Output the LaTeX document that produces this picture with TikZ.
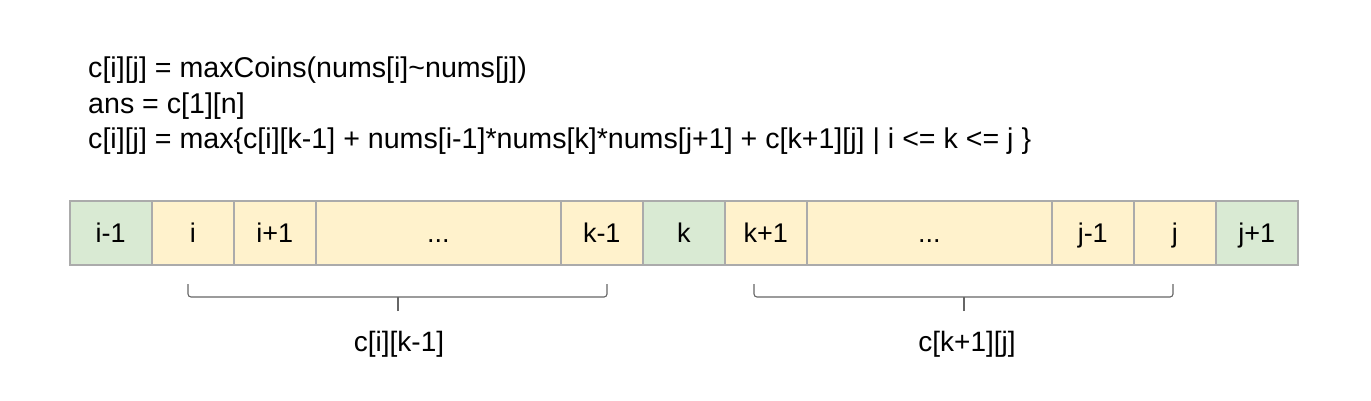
\documentclass[tikz,border=0pt]{standalone}
\usepackage{fontspec}
\setmainfont{Liberation Sans}
\definecolor{cellgreen}{HTML}{D9EAD3}
\definecolor{cellyellow}{HTML}{FFF2CC}
\definecolor{cellborder}{HTML}{ABABAB}
\definecolor{bracecol}{HTML}{666666}
\begin{document}
\begin{tikzpicture}[x=1pt,y=-1pt,
  txt/.style={font=\fontsize{28.6}{34}\selectfont, inner sep=0pt},
  lbl/.style={font=\fontsize{28}{34}\selectfont, inner sep=0pt, text height=20pt, text depth=0pt},
  cellbox/.style={draw=cellborder, line width=1.5pt, minimum height=64pt, inner sep=0pt, text height=19.4pt, text depth=0pt, anchor=north west, font=\fontsize{27}{32}\selectfont},
  gcell/.style={cellbox, fill=cellgreen},
  ycell/.style={cellbox, fill=cellyellow},
  bracepath/.style={draw=bracecol, line width=1.1pt, rounded corners=3pt}]
\useasboundingbox (0,0) rectangle (1371,400);
\fill[white] (0,0) rectangle (1371,400);
% formulas
\node[txt, anchor=base west] (f1) at (88,77) {c[i][j] = maxCoins(nums[i]\char`~nums[j])};
\node[txt, anchor=base west] (f2) at (88,113) {ans = c[1][n]};
\node[txt, anchor=base west] (f3) at (88,148) {c[i][j] = max\{c[i][k-1] + nums[i-1]*nums[k]*nums[j+1] + c[k+1][j] | i <= k <= j \}};
% cells
\node[gcell, minimum width=82pt] (c1) at (69,200) {i-1};
\node[ycell, minimum width=82pt] (c2) at (151,200) {i};
\node[ycell, minimum width=82pt] (c3) at (233,200) {i+1};
\node[ycell, minimum width=245pt] (c4) at (315,200) {...};
\node[ycell, minimum width=82pt] (c5) at (560,200) {k-1};
\node[gcell, minimum width=82pt] (c6) at (642,200) {k};
\node[ycell, minimum width=82pt] (c7) at (724,200) {k+1};
\node[ycell, minimum width=245pt] (c8) at (806,200) {...};
\node[ycell, minimum width=82pt] (c9) at (1051,200) {j-1};
\node[ycell, minimum width=82pt] (c10) at (1133,200) {j};
\node[gcell, minimum width=82pt] (c11) at (1215,200) {j+1};
% braces
\coordinate (bla) at (188,284);
\coordinate (blb) at (607,284);
\coordinate (blm) at (398,297);
\coordinate (blt) at (398,311);
\coordinate (bra) at (754,284);
\coordinate (brb) at (1173,284);
\coordinate (brm) at (964,297);
\coordinate (brt) at (964,311);
\draw[bracepath] (bla) |- (blm) -| (blb);
\draw[bracepath] (blt) -- (blm);
\draw[bracepath] (bra) |- (brm) -| (brb);
\draw[bracepath] (brt) -- (brm);
\node[lbl] (l1) at (399,341) {c[i][k-1]};
\node[lbl] (l2) at (967,341) {c[k+1][j]};
\end{tikzpicture}
\end{document}
